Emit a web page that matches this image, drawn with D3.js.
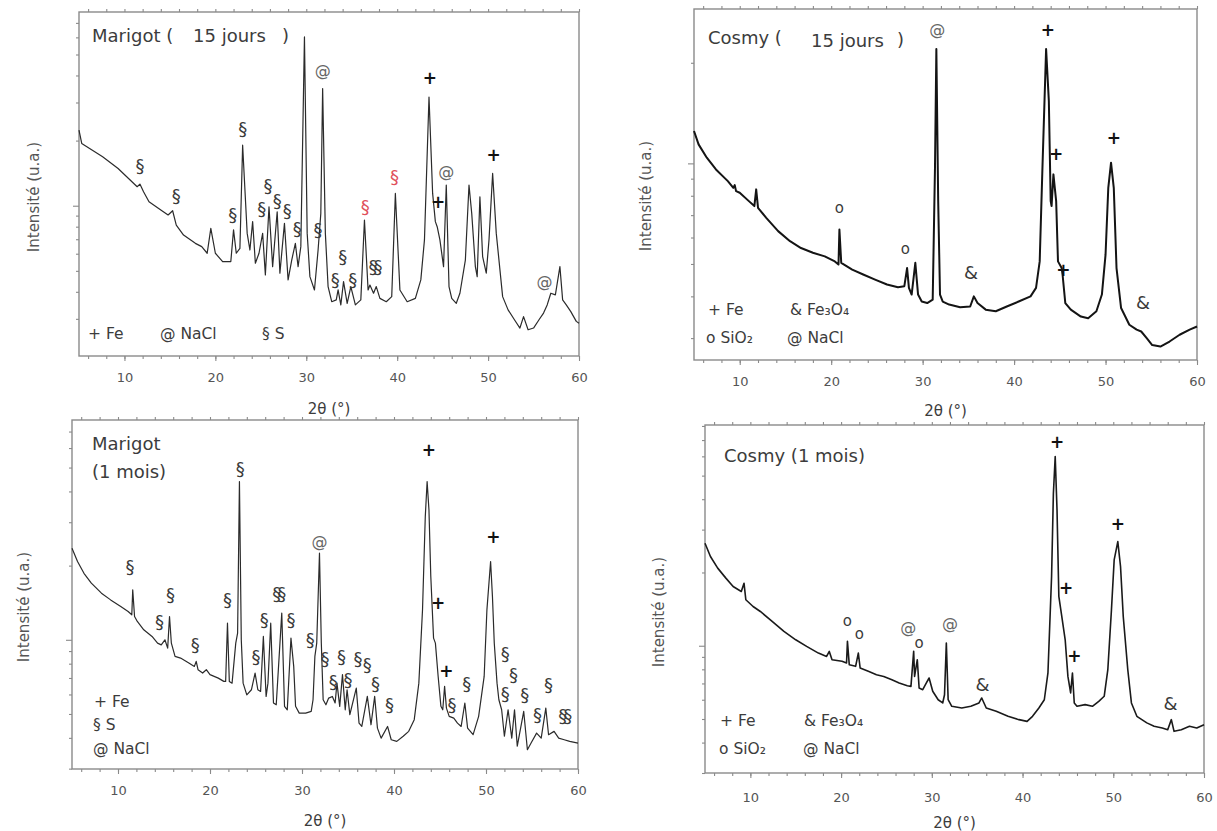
<!DOCTYPE html>
<html><head><meta charset="utf-8">
<script src="https://cdn.jsdelivr.net/npm/d3@7"></script>
<style>
body{margin:0;background:#fff}
svg{display:block}
text{font-family:"DejaVu Sans",sans-serif}
</style>
</head><body>
<svg id="c" width="1217" height="831"></svg>
<script>
// ---------- DATA (2θ in degrees, intensity in arbitrary counts) ----------
const xTickValues = [10, 20, 30, 40, 50, 60];
const xMinorValues = d3.range(6, 61, 2);

const marigot15 = [[5.0,2235],[5.3,1940],[7.6,1684],[9.3,1486],[11.4,1224],[11.7,1259],[12.1,1160],[12.7,1043],[14.0,955],[14.8,906],[15.3,948],[15.7,814],[16.5,732],[17.8,670],[18.5,647],[19.1,603],[19.5,786],[20.0,603],[20.8,552],[21.7,552],[22.0,773],[22.3,603],[22.7,635],[23.0,1905],[23.5,745],[23.8,624],[24.1,844],[24.4,542],[24.8,603],[25.2,745],[25.5,479],[25.9,989],[26.3,523],[26.8,938],[27.1,488],[27.6,829],[28.0,454],[28.4,561],[28.8,670],[29.1,523],[29.4,647],[29.8,6030],[30.1,745],[30.4,470],[30.9,408],[31.3,624],[31.6,922],[31.8,3480],[32.1,745],[32.4,423],[32.8,360],[33.3,367],[33.5,408],[33.8,348],[34.1,446],[34.5,354],[34.9,423],[35.4,348],[36.0,367],[36.4,859],[36.8,408],[37.0,430],[37.4,394],[37.7,423],[38.1,373],[38.8,360],[39.4,380],[39.8,1140],[40.3,408],[41.1,360],[42.0,373],[42.6,454],[43.0,695],[43.5,3180],[43.9,1140],[44.2,844],[44.4,800],[44.7,695],[45.1,523],[45.4,1246],[45.7,423],[46.0,373],[46.5,354],[46.9,394],[47.5,561],[47.9,1246],[48.2,922],[48.6,523],[48.8,470],[49.1,1100],[49.4,582],[49.8,488],[50.1,695],[50.5,1410],[50.9,745],[51.6,380],[52.2,330],[52.9,297],[53.5,272],[53.9,307],[54.4,267],[55.0,272],[55.6,297],[56.1,319],[56.5,348],[56.9,394],[57.4,387],[57.9,523],[58.2,367],[58.6,348],[59.1,324],[59.7,292],[60.0,286]];

const cosmy15 = [[5.0,1250],[5.5,1140],[6.4,1040],[7.4,959],[8.7,885],[9.3,845],[9.45,861],[9.6,826],[10.0,817],[11.0,771],[11.6,745],[11.8,836],[12.0,736],[12.9,687],[14.2,627],[15.5,585],[16.7,558],[18.0,540],[19.3,527],[20.4,509],[20.8,498],[20.9,634],[21.1,504],[22.3,481],[23.5,465],[24.8,449],[26.1,434],[27.3,426],[28.0,429],[28.3,486],[28.5,424],[28.8,405],[29.2,504],[29.5,405],[29.9,386],[30.5,382],[31.1,391],[31.35,970],[31.5,2198],[31.7,771],[31.9,405],[32.2,386],[32.9,378],[34.1,371],[35.2,373],[35.6,400],[36.0,382],[36.9,365],[38.0,361],[39.2,373],[40.5,386],[41.8,400],[42.4,424],[42.8,509],[43.1,970],[43.5,2198],[43.8,1538],[44.0,771],[44.1,745],[44.3,927],[44.6,771],[44.8,509],[45.2,486],[45.3,465],[45.6,382],[46.2,365],[47.3,348],[48.1,344],[49.0,361],[49.6,405],[50.0,533],[50.3,845],[50.6,1005],[50.9,845],[51.2,486],[51.7,369],[52.6,329],[53.4,318],[53.9,314],[54.5,300],[55.1,286],[56.0,283],[57.0,293],[58.1,307],[59.2,318],[60.0,325]];

const marigot1m = [[5.0,2353],[5.6,2078],[6.3,1862],[7.1,1698],[8.2,1546],[9.2,1452],[10.3,1365],[11.1,1303],[11.5,1263],[11.6,1594],[11.8,1243],[12.1,1187],[12.8,1098],[13.7,1032],[14.3,969],[14.7,954],[15.1,1000],[15.4,925],[15.6,1243],[15.8,969],[16.2,856],[16.8,843],[17.7,805],[18.3,780],[18.5,817],[18.7,756],[19.2,733],[19.6,756],[20.0,722],[20.9,699],[21.5,678],[21.7,678],[21.9,1168],[22.1,678],[22.4,667],[22.8,969],[23.0,1064],[23.2,4385],[23.4,1000],[23.6,667],[24.0,598],[24.5,627],[24.9,733],[25.2,627],[25.5,617],[25.8,1032],[26.1,589],[26.3,667],[26.6,1168],[26.9,554],[27.2,545],[27.8,1283],[28.1,537],[28.4,520],[28.8,1016],[29.1,780],[29.3,537],[29.7,504],[30.4,504],[31.0,512],[31.2,571],[31.4,856],[31.6,969],[31.9,2246],[32.1,969],[32.3,571],[32.6,545],[32.9,580],[33.3,589],[33.6,554],[33.8,667],[34.1,537],[34.4,722],[34.7,520],[34.9,627],[35.2,497],[35.9,637],[36.2,459],[36.5,445],[37.1,589],[37.5,452],[37.9,589],[38.2,438],[38.6,399],[39.3,445],[39.7,393],[40.3,387],[41.0,406],[41.6,425],[42.2,474],[42.7,667],[43.1,1323],[43.4,3162],[43.6,4385],[43.8,3365],[44.0,1806],[44.3,1016],[44.5,969],[44.8,710],[45.1,537],[45.3,520],[45.5,647],[45.7,528],[46.0,489],[46.5,481],[46.9,459],[47.3,445],[47.7,554],[48.0,438],[48.6,412],[49.2,489],[49.8,710],[50.1,1323],[50.5,2078],[50.7,1498],[50.9,969],[51.2,667],[51.4,571],[51.7,520],[52.0,406],[52.4,520],[52.8,399],[53.1,520],[53.4,370],[54.1,512],[54.5,358],[54.9,381],[55.5,418],[56.0,399],[56.5,528],[56.8,412],[57.4,425],[57.9,399],[58.5,393],[59.1,387],[60.0,381]];

const cosmy1m = [[5.0,2637],[5.6,2326],[6.4,2084],[7.3,1896],[8.1,1752],[9.0,1671],[9.3,1807],[9.5,1545],[10.3,1450],[11.1,1383],[12.4,1259],[13.7,1145],[15.0,1058],[16.2,994],[17.5,933],[18.4,904],[18.7,948],[19.0,876],[20.1,863],[20.6,849],[20.7,1042],[20.9,836],[21.6,823],[21.9,933],[22.1,810],[23.0,785],[23.9,760],[24.7,748],[25.6,725],[26.4,703],[27.3,685],[27.7,681],[28.0,948],[28.1,748],[28.4,876],[28.6,670],[29.0,660],[29.4,703],[29.7,737],[30.1,650],[30.7,600],[31.2,582],[31.4,629],[31.6,1025],[31.8,600],[32.2,564],[33.3,555],[34.3,564],[35.2,582],[35.5,610],[36.0,555],[37.1,538],[38.4,513],[39.6,497],[40.5,489],[41.1,513],[41.8,555],[42.4,600],[42.8,773],[43.2,1925],[43.4,4232],[43.6,5984],[43.8,3614],[44.0,1594],[44.3,1340],[44.7,1058],[45.0,748],[45.3,640],[45.5,773],[45.7,582],[46.0,564],[46.9,573],[47.7,564],[48.4,591],[49.0,620],[49.4,797],[49.8,1406],[50.1,2254],[50.5,2679],[50.8,2117],[51.1,1319],[51.6,797],[52.0,582],[52.6,513],[53.7,482],[54.5,467],[55.4,459],[56.0,452],[56.4,497],[56.7,445],[57.5,452],[58.4,467],[59.2,459],[60.0,474]];

// peak markers: [symbol, 2θ, intensity, highlighted]
const marigot15Marks = [["§",11.7,1541],["§",15.7,1120],["§",21.9,906],["§",23.0,2275],["§",25.1,972],["§",25.8,1246],["§",26.8,1062],["§",27.9,955],["§",29.0,786],["§",31.3,773],["@",31.8,4227],["§",33.2,454],["§",34.0,582],["§",35.1,454],["§",36.5,989,true],["§§",37.4,523],["§",39.7,1361,true],["+",43.6,3910],["+",44.5,1043],["@",45.4,1435],["+",50.6,1713],["@",56.2,446]];
const cosmy15Marks = [["o",20.9,733],["o",28.1,556],["@",31.6,2523],["&",35.3,473],["+",43.7,2506],["+",44.6,1064],["+",45.4,481],["+",50.9,1194],["&",54.1,384]];
const marigot1mMarks = [["§",11.3,1984],["§",14.5,1187],["§",15.7,1522],["§",18.4,954],["§",21.9,1452],["§",23.3,4965],["§",25.0,856],["§",25.9,1205],["§§",27.3,1546],["§",28.8,1205],["§",30.9,1000],["@",31.9,2504],["§",32.5,843],["§",33.4,678],["§",34.3,856],["§",35.0,693],["§",36.1,843],["§",37.1,792],["§",38.0,667],["§",39.5,545],["+",43.8,5891],["+",44.8,1408],["+",45.7,749],["§",46.3,545],["§",47.9,667],["+",50.8,2624],["§",52.1,883],["§",53.0,722],["§",52.1,608],["§",54.2,598],["§",55.6,497],["§",56.8,657],["§§",58.4,492]];
const cosmy1mMarks = [["o",20.7,1259],["o",22.0,1120],["@",27.4,1193],["o",28.6,1025],["@",32.0,1239],["&",35.6,692],["+",43.8,6897],["+",44.8,1724],["+",45.7,904],["+",50.5,3158],["&",56.3,578]];

// legends
const legendMarigot15 = ["+ Fe", "@ NaCl", "§ S"];
const legendCosmy = ["+ Fe", "& Fe₃O₄", "o SiO₂", "@ NaCl"];
const legendMarigot1m = ["+ Fe", "§ S", "@ NaCl"];

// y domains (intensity range shown in each panel)
const domainMarigot15 = [202, 7860];
const domainCosmy15 = [258, 2897];
const domainMarigot1m = [299, 7798];
const domainCosmy1m = [300, 8072];

// ---------- LAYOUT ----------
const panels = [
  {data: marigot15, marks: marigot15Marks, dom: domainMarigot15, box: [79, 12, 579, 356], tickY: 377, xTitleY: 409, yTitle: [34, 197], lw: 1.2, col: "#2b2b2b",
   title: [["Marigot (", 92, 35], ["15 jours", 193, 35], [")", 282, 35]],
   legend: legendMarigot15, legendPos: [[88, 334], [160, 334], [262, 334]]},
  {data: cosmy15, marks: cosmy15Marks, dom: domainCosmy15, box: [694, 9, 1197, 360], tickY: 381, xTitleY: 411, yTitle: [646, 196], lw: 2.0, col: "#141414",
   title: [["Cosmy (", 708, 37], ["15 jours", 811, 40], [")", 897, 39]],
   legend: legendCosmy, legendPos: [[708, 310], [790, 310], [706, 338], [787, 338]]},
  {data: marigot1m, marks: marigot1mMarks, dom: domainMarigot1m, box: [72, 420, 578, 769], tickY: 790, xTitleY: 821, yTitle: [24, 607], lw: 1.2, col: "#2b2b2b",
   title: [["Marigot", 92, 443], ["(1 mois)", 92, 471]],
   legend: legendMarigot1m, legendPos: [[94, 702], [93, 725], [93, 749]]},
  {data: cosmy1m, marks: cosmy1mMarks, dom: domainCosmy1m, box: [705, 425, 1204, 773], tickY: 797, xTitleY: 823, yTitle: [659, 612], lw: 1.6, col: "#1a1a1a",
   title: [["Cosmy (1 mois)", 724, 455]],
   legend: legendCosmy, legendPos: [[720, 721], [804, 721], [719, 749], [803, 749]]}
];

const svg = d3.select("#c");
const frameCol = "#8a8a8a";
const textCol = "#3c3c3c";

panels.forEach(p => {
  const [x0, y0, x1, y1] = p.box;
  const x = d3.scaleLinear().domain([5, 60]).range([x0, x1]);
  const y = d3.scaleLog().domain(p.dom).range([y1, y0]);
  const g = svg.append("g");

  // log ticks on the left
  const minor = [], major = [];
  [100, 1000, 10000].forEach(d => {
    for (let k = 1; k <= 9; k++) {
      const v = k * d;
      if (v >= p.dom[0] && v <= p.dom[1]) (k === 1 ? major : minor).push(v);
    }
  });
  const styleAxis = sel => {
    sel.select(".domain").remove();
    sel.selectAll("line").attr("stroke", frameCol).attr("stroke-width", 1.1);
    sel.selectAll("text").attr("fill", "#555").attr("font-size", 13)
      .style("font-family", "'DejaVu Sans',sans-serif");
  };
  g.append("g").attr("transform", `translate(${x0},0)`)
    .call(d3.axisLeft(y).tickValues(minor).tickSize(3).tickFormat("")).call(styleAxis);
  g.append("g").attr("transform", `translate(${x0},0)`)
    .call(d3.axisLeft(y).tickValues(major).tickSize(6).tickFormat("")).call(styleAxis);

  // bottom axis
  const pad = p.tickY - y1 - 5 - 4.7;
  g.append("g").attr("transform", `translate(0,${y1})`)
    .call(d3.axisBottom(x).tickValues(xMinorValues).tickSize(3).tickFormat("")).call(styleAxis);
  g.append("g").attr("transform", `translate(0,${y1})`)
    .call(d3.axisBottom(x).tickValues(xTickValues).tickSize(5).tickPadding(pad).tickFormat(d3.format("d"))).call(styleAxis);
  // top ticks
  g.append("g").attr("transform", `translate(0,${y0})`)
    .call(d3.axisTop(x).tickValues(xMinorValues).tickSize(3).tickFormat("")).call(styleAxis);

  // frame
  g.append("rect").attr("x", x0).attr("y", y0).attr("width", x1 - x0).attr("height", y1 - y0)
    .attr("fill", "none").attr("stroke", frameCol).attr("stroke-width", 1.4);

  // trace
  const line = d3.line().x(d => x(d[0])).y(d => y(d[1]));
  g.append("path").datum(p.data).attr("d", line).attr("fill", "none")
    .attr("stroke", p.col).attr("stroke-width", p.lw).attr("stroke-linejoin", "round");

  // peak markers
  const sizeOf = s => s === "+" ? 17 : (s === "@" ? 16 : (s === "o" ? 15 : 18));
  g.selectAll("text.mark").data(p.marks).enter().append("text").attr("class", "mark")
    .attr("x", d => x(d[1])).attr("y", d => y(d[2]))
    .attr("text-anchor", "middle").attr("dominant-baseline", "central")
    .attr("font-size", d => sizeOf(d[0]))
    .attr("font-weight", d => d[0] === "+" ? "bold" : "normal")
    .attr("fill", d => d[3] ? "#e0505c" : (d[0] === "@" ? "#666" : (d[0] === "+" ? "#111" : "#3a3a3a")))
    .attr("letter-spacing", d => d[0].length > 1 ? -4 : 0)
    .text(d => d[0]);

  // titles
  p.title.forEach(t => {
    g.append("text").attr("x", t[1]).attr("y", t[2]).attr("dominant-baseline", "central")
      .attr("font-size", 18).attr("fill", textCol).text(t[0]);
  });

  // legend
  p.legend.forEach((t, i) => {
    g.append("text").attr("x", p.legendPos[i][0]).attr("y", p.legendPos[i][1])
      .attr("dominant-baseline", "central").attr("font-size", 15.5).attr("fill", textCol).text(t);
  });

  // axis titles
  g.append("text").attr("x", (x0 + x1) / 2).attr("y", p.xTitleY).attr("text-anchor", "middle")
    .attr("dominant-baseline", "central").attr("font-size", 15).attr("fill", textCol).text("2θ (°)");
  g.append("text").attr("transform", `translate(${p.yTitle[0]},${p.yTitle[1]}) rotate(-90)`)
    .attr("text-anchor", "middle").attr("dominant-baseline", "central")
    .attr("font-size", 15).attr("fill", "#555").text("Intensité (u.a.)");
});
</script>
</body></html>
